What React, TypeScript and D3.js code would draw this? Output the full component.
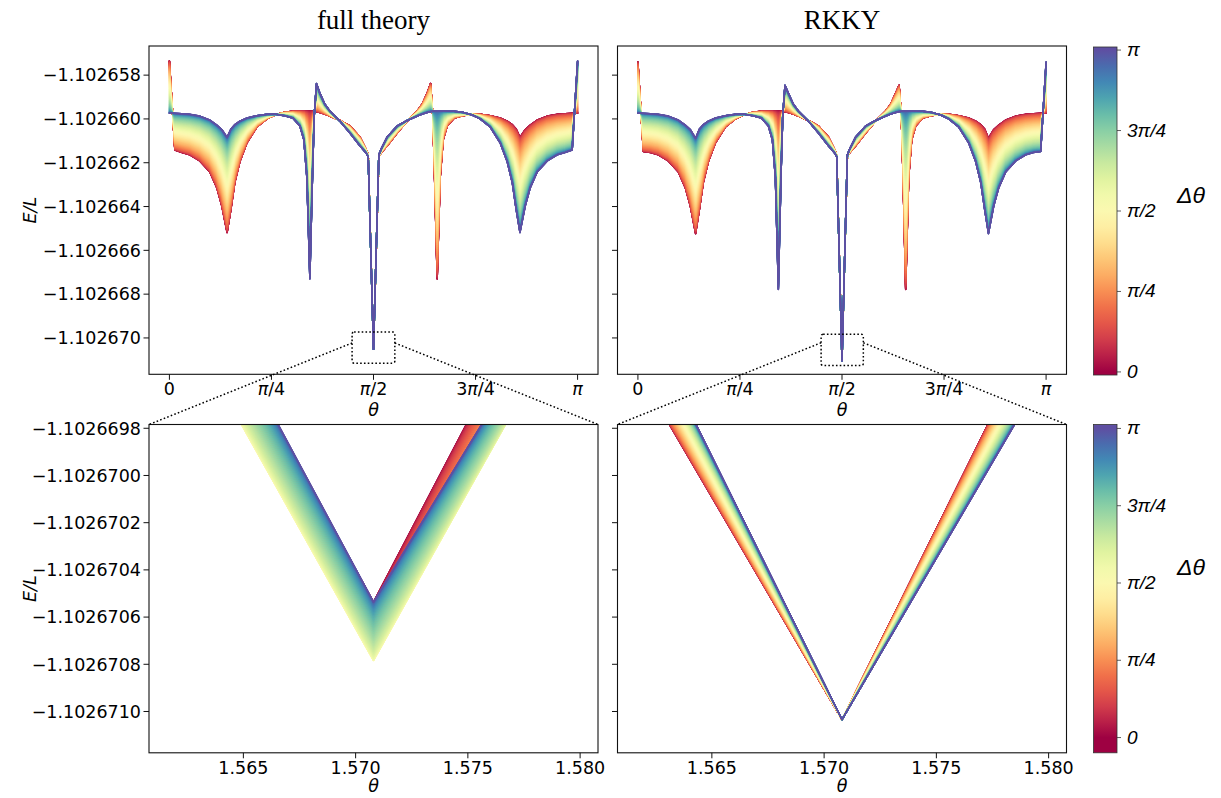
import React from "react";
import * as d3 from "d3";

const PI = Math.PI;
// Energies are stored as offsets from E_REF, in units of 1e-6.
const E_REF = -1.10266;
const UNIT = 1e-6;

// Sweep over the magnetisation angle θ ∈ [0, π]
const thetaSweep = [
  0, 0.042, 0.095, 0.157, 0.234, 0.311, 0.365, 0.403, 0.444, 0.473, 0.503, 0.542, 0.596, 0.673, 0.75, 0.811, 0.881,
  0.95, 1.004, 1.035, 1.058, 1.081, 1.102, 1.115, 1.132, 1.158, 1.196, 1.235, 1.312, 1.389, 1.466, 1.512, 1.53, 1.5708,
  1.612, 1.63, 1.676, 1.753, 1.83, 1.907, 1.946, 1.984, 2.01, 2.027, 2.04, 2.061, 2.084, 2.107, 2.138, 2.192, 2.261,
  2.331, 2.392, 2.469, 2.546, 2.6, 2.639, 2.669, 2.698, 2.739, 2.777, 2.831, 2.908, 2.985, 3.046, 3.1, 3.1416,
];

// Full theory, Δθ = 0 and Δθ = π
const fullDelta0 = [
  2.65, -1.42, -1.53, -1.64, -1.92, -2.42, -3.15, -3.97, -5.19, -4.15, -2.92, -1.96, -1.1, -0.37, 0.0, 0.18, 0.3,
  0.35, 0.36, 0.37, 0.37, 0.37, 0.36, 0.35, 0.33, 0.29, 0.22, 0.13, -0.07, -0.32, -0.82, -1.37, -1.64, -10.51,
  -1.72, -1.54, -1.23, -0.64, -0.1, 0.36, 0.68, 1.18, 1.62, 0.18, -2.46, -7.31, -2.69, -0.96, -0.32, 0.04, 0.15,
  0.22, 0.21, 0.15, 0.04, -0.1, -0.26, -0.46, -0.84, -0.48, -0.28, -0.05, 0.13, 0.21, 0.24, 0.26, 0.26,
];
const fullDeltaPi = [
  0.26, 0.26, 0.24, 0.21, 0.13, -0.05, -0.28, -0.48, -0.84, -0.46, -0.26, -0.1, 0.04, 0.15, 0.21, 0.22, 0.15,
  0.04, -0.32, -0.96, -2.69, -7.31, -2.46, 0.18, 1.62, 1.18, 0.68, 0.36, -0.1, -0.64, -1.23, -1.54, -1.72, -10.51,
  -1.64, -1.37, -0.82, -0.32, -0.07, 0.13, 0.22, 0.29, 0.33, 0.35, 0.36, 0.37, 0.37, 0.37, 0.36, 0.35, 0.3,
  0.18, 0.0, -0.37, -1.1, -1.96, -2.92, -4.15, -5.19, -3.97, -3.15, -2.42, -1.92, -1.64, -1.53, -1.42, 2.65,
];

// RKKY, Δθ = 0 and Δθ = π
const rkkyDelta0 = [
  2.6, -1.49, -1.53, -1.64, -1.92, -2.42, -3.15, -3.97, -5.24, -4.15, -2.92, -1.96, -1.1, -0.37, 0.0, 0.18, 0.3,
  0.35, 0.36, 0.37, 0.37, 0.37, 0.36, 0.35, 0.33, 0.29, 0.22, 0.13, -0.07, -0.32, -0.82, -1.37, -1.64, -11.04,
  -1.72, -1.54, -1.23, -0.64, -0.1, 0.36, 0.68, 1.18, 1.54, 0.18, -2.46, -7.79, -2.69, -0.96, -0.32, 0.04, 0.15,
  0.22, 0.21, 0.15, 0.04, -0.1, -0.26, -0.46, -0.88, -0.48, -0.28, -0.05, 0.13, 0.21, 0.24, 0.26, 0.26,
];
const rkkyDeltaPi = [
  0.26, 0.26, 0.24, 0.21, 0.13, -0.05, -0.28, -0.48, -0.88, -0.46, -0.26, -0.1, 0.04, 0.15, 0.21, 0.22, 0.15,
  0.04, -0.32, -0.96, -2.69, -7.79, -2.46, 0.18, 1.54, 1.18, 0.68, 0.36, -0.1, -0.64, -1.23, -1.54, -1.72, -11.04,
  -1.64, -1.37, -0.82, -0.32, -0.07, 0.13, 0.22, 0.29, 0.33, 0.35, 0.36, 0.37, 0.37, 0.37, 0.36, 0.35, 0.3,
  0.18, 0.0, -0.37, -1.1, -1.96, -2.92, -4.15, -5.24, -3.97, -3.15, -2.42, -1.92, -1.64, -1.53, -1.49, 2.6,
];

// Close-up around θ = π/2
const thetaCloseUp = [PI / 2 - 0.01, PI / 2, PI / 2 + 0.01];
const fullCloseDelta0 = [-8.8, -10.536, -8.716];
const fullCloseDeltaHalf = [-9.083, -10.784, -9.073];
const fullCloseDeltaPi = [-8.765, -10.536, -8.974];
const rkkyCloseDelta0 = [-9.408, -11.034, -9.111];
const rkkyCloseDeltaPi = [-9.111, -11.034, -9.408];

// Axes
const sweepThetaTicks = [0, PI / 4, PI / 2, (3 * PI) / 4, PI];
const sweepThetaLabels = ["0", "π/4", "π/2", "3π/4", "π"];
const sweepEnergyTicks = [-1.102658, -1.10266, -1.102662, -1.102664, -1.102666, -1.102668, -1.10267];
const closeThetaTicks = [1.565, 1.57, 1.575, 1.58];
const closeEnergyTicks = [-1.1026698, -1.10267, -1.1026702, -1.1026704, -1.1026706, -1.1026708, -1.102671];
const deltaTicks = [0, PI / 4, PI / 2, (3 * PI) / 4, PI];
const deltaLabels = ["0", "π/4", "π/2", "3π/4", "π"];
const DELTA_STEPS = 101;

const SWEEP_X: [number, number] = [-0.05 * PI, 1.05 * PI];
const SWEEP_Y: [number, number] = [E_REF - 11.66 * UNIT, E_REF + 3.33 * UNIT];
const CLOSE_X: [number, number] = [PI / 2 - 0.01, PI / 2 + 0.01];
const CLOSE_Y: [number, number] = [E_REF - 11.175 * UNIT, E_REF - 9.784 * UNIT];

// Colour bar ranges (Δθ)
const SWEEP_BAR: [number, number] = [-0.03, PI + 0.03];
const CLOSE_BAR: [number, number] = [-0.155, PI + 0.04];

// Zoom indicator in the sweep panels (data coordinates)
const fullBox = { t0: 1.406, t1: 1.735, e0: -11.15, e1: -9.73, anchor: -10.23 };
const rkkyBox = { t0: 1.41, t1: 1.735, e0: -11.26, e1: -9.83, anchor: -10.22 };

type Pt = [number, number];
type Curve = { delta: number; pts: Pt[] };

// E(Δθ) = A + B cos Δθ + C cos 2Δθ through the stored Δθ = 0, π/2, π curves
function buildFamily(theta: number[], d0: number[], dPi: number[], dHalf?: number[]): Curve[] {
  const out: Curve[] = [];
  for (let k = 0; k < DELTA_STEPS; k++) {
    const delta = (PI * k) / (DELTA_STEPS - 1);
    const pts = theta.map((t, i) => {
      const e0 = d0[i];
      const ePi = dPi[i];
      const eHalf = dHalf ? dHalf[i] : (e0 + ePi) / 2;
      const mean = (e0 + ePi) / 2;
      const A = (mean + eHalf) / 2;
      const B = (e0 - ePi) / 2;
      const C = (mean - eHalf) / 2;
      const off = A + B * Math.cos(delta) + C * Math.cos(2 * delta);
      return [t, E_REF + off * UNIT] as Pt;
    });
    out.push({ delta, pts });
  }
  return out;
}

const FONT = "DejaVu Sans";
const TICK_FS = 17.5;
const minus = (s: string) => s.replace("-", "\u2212");

function PiLabel({ text, x, y, anchor = "middle", size = TICK_FS, family = FONT, allItalic = false }: any) {
  const parts = text.split("π");
  const nodes: any[] = [];
  parts.forEach((p: string, i: number) => {
    if (p) nodes.push(<tspan key={"p" + i} fontStyle={allItalic ? "italic" : "normal"}>{p}</tspan>);
    if (i < parts.length - 1) nodes.push(<tspan key={"pi" + i} fontStyle="italic">π</tspan>);
  });
  return (
    <text x={x} y={y} textAnchor={anchor} fontFamily={family} fontSize={size} fill="#000">
      {nodes}
    </text>
  );
}

type PanelProps = {
  id: string;
  left: number;
  top: number;
  width: number;
  height: number;
  xDomain: [number, number];
  yDomain: [number, number];
  curves: Curve[];
  xTicks: number[];
  xLabel: (v: number, i: number) => string;
  yTicks: number[];
  yLabel: ((v: number) => string) | null;
  thetaY: number;
};

function Panel(p: PanelProps) {
  const x = d3.scaleLinear().domain(p.xDomain).range([p.left, p.left + p.width]);
  const y = d3.scaleLinear().domain(p.yDomain).range([p.top + p.height, p.top]);
  const line = d3
    .line<Pt>()
    .x((d) => x(d[0]))
    .y((d) => y(d[1]));
  const bottom = p.top + p.height;
  return (
    <g>
      <defs>
        <clipPath id={p.id}>
          <rect x={p.left} y={p.top} width={p.width} height={p.height} />
        </clipPath>
      </defs>
      <g clipPath={`url(#${p.id})`}>
        {p.curves.map((c, i) => (
          <path
            key={i}
            d={line(c.pts) || ""}
            fill="none"
            stroke={d3.interpolateSpectral(c.delta / PI)}
            strokeWidth={1.5}
            strokeLinejoin="round"
            strokeLinecap="round"
          />
        ))}
      </g>
      <rect x={p.left} y={p.top} width={p.width} height={p.height} fill="none" stroke="#111" strokeWidth={1.1} />
      {p.xTicks.map((t, i) => (
        <g key={"xt" + i}>
          <line x1={x(t)} x2={x(t)} y1={bottom} y2={bottom + 5.5} stroke="#111" strokeWidth={1} />
          {p.xLabel(t, i).includes("π") ? (
            <PiLabel text={p.xLabel(t, i)} x={x(t)} y={bottom + 21} />
          ) : (
            <text x={x(t)} y={bottom + 21} textAnchor="middle" fontFamily={FONT} fontSize={TICK_FS}>
              {p.xLabel(t, i)}
            </text>
          )}
        </g>
      ))}
      {p.yTicks.map((t, i) => (
        <g key={"yt" + i}>
          <line x1={p.left - 5.5} x2={p.left} y1={y(t)} y2={y(t)} stroke="#111" strokeWidth={1} />
          {p.yLabel && (
            <text x={p.left - 8} y={y(t)} dy="0.36em" textAnchor="end" fontFamily={FONT} fontSize={TICK_FS}>
              {p.yLabel(t)}
            </text>
          )}
        </g>
      ))}
      <text
        x={p.left + p.width / 2}
        y={p.thetaY}
        textAnchor="middle"
        fontFamily={FONT}
        fontStyle="italic"
        fontSize={TICK_FS}
      >
        θ
      </text>
      {p.yLabel && (
        <text
          transform={`translate(${p.left - 113},${p.top + p.height / 2}) rotate(-90)`}
          textAnchor="middle"
          fontFamily={FONT}
          fontStyle="italic"
          fontSize={TICK_FS}
        >
          E/L
        </text>
      )}
    </g>
  );
}

function ColorBar({ id, left, top, width, height, domain, labelY }: any) {
  const y = d3.scaleLinear().domain(domain).range([top + height, top]);
  const stops = d3.range(0, 1.0001, 0.05);
  return (
    <g>
      <defs>
        <linearGradient id={id} x1="0" y1={y(0)} x2="0" y2={y(PI)} gradientUnits="userSpaceOnUse">
          {stops.map((s, i) => (
            <stop key={i} offset={s} stopColor={d3.interpolateSpectral(s)} />
          ))}
        </linearGradient>
      </defs>
      <rect x={left} y={top} width={width} height={height} fill={`url(#${id})`} stroke="#333" strokeWidth={0.8} />
      {deltaTicks.map((t, i) => (
        <g key={i}>
          <line x1={left + width} x2={left + width + 4} y1={y(t)} y2={y(t)} stroke="#333" strokeWidth={0.8} />
          <PiLabel
            text={deltaLabels[i]}
            x={left + width + 10}
            y={y(t) + 6}
            anchor="start"
            size={19}
            family="Liberation Sans"
            allItalic
          />
        </g>
      ))}
      <text
        x={left + width + 74}
        y={labelY}
        textAnchor="middle"
        fontFamily="Liberation Sans"
        fontStyle="italic"
        fontSize={23}
      >
        Δθ
      </text>
    </g>
  );
}

function ZoomMark({ box, left, top, width, height, toLeft, toRight, toTop }: any) {
  const x = d3.scaleLinear().domain(SWEEP_X).range([left, left + width]);
  const y = d3.scaleLinear().domain(SWEEP_Y).range([top + height, top]);
  const bx0 = x(box.t0);
  const bx1 = x(box.t1);
  const by0 = y(E_REF + box.e1 * UNIT);
  const by1 = y(E_REF + box.e0 * UNIT);
  const ay = y(E_REF + box.anchor * UNIT);
  return (
    <g fill="none" stroke="#000" strokeWidth={1.5} strokeDasharray="1.6,2.2">
      <rect x={bx0} y={by0} width={bx1 - bx0} height={by1 - by0} rx={2} />
      <line x1={bx0} y1={ay} x2={toLeft} y2={toTop} />
      <line x1={bx1} y1={ay} x2={toRight} y2={toTop} />
    </g>
  );
}

export default function App() {
  const L1 = 149;
  const L2 = 617.5;
  const PW = 449;
  const T1 = 46;
  const T2 = 424.5;
  const PH = 328.3;

  const fullSweep = buildFamily(thetaSweep, fullDelta0, fullDeltaPi);
  const rkkySweep = buildFamily(thetaSweep, rkkyDelta0, rkkyDeltaPi);
  const fullClose = buildFamily(thetaCloseUp, fullCloseDelta0, fullCloseDeltaPi, fullCloseDeltaHalf);
  const rkkyClose = buildFamily(thetaCloseUp, rkkyCloseDelta0, rkkyCloseDeltaPi);

  const sweepLabel = (_: number, i: number) => sweepThetaLabels[i];
  const closeLabel = (v: number) => d3.format(".3f")(v);
  const sweepE = (v: number) => minus(d3.format(".6f")(v));
  const closeE = (v: number) => minus(d3.format(".7f")(v));

  return (
    <svg
      width={1221}
      height={798}
      viewBox="0 0 1221 798"
      style={{ position: "absolute", left: 0, top: 0, display: "block", background: "#fff" }}
    >
      <rect x={0} y={0} width={1221} height={798} fill="#fff" />
      <text x={L1 + PW / 2} y={29} textAnchor="middle" fontFamily="Liberation Serif" fontSize={27}>
        full theory
      </text>
      <text x={L2 + PW / 2} y={29} textAnchor="middle" fontFamily="Liberation Serif" fontSize={27}>
        RKKY
      </text>

      <Panel id="c1" left={L1} top={T1} width={PW} height={PH} xDomain={SWEEP_X} yDomain={SWEEP_Y}
        curves={fullSweep} xTicks={sweepThetaTicks} xLabel={sweepLabel} yTicks={sweepEnergyTicks} yLabel={sweepE}
        thetaY={416} />
      <Panel id="c2" left={L2} top={T1} width={PW} height={PH} xDomain={SWEEP_X} yDomain={SWEEP_Y}
        curves={rkkySweep} xTicks={sweepThetaTicks} xLabel={sweepLabel} yTicks={sweepEnergyTicks} yLabel={null}
        thetaY={416} />
      <Panel id="c3" left={L1} top={T2} width={PW} height={PH} xDomain={CLOSE_X} yDomain={CLOSE_Y}
        curves={fullClose} xTicks={closeThetaTicks} xLabel={closeLabel} yTicks={closeEnergyTicks} yLabel={closeE}
        thetaY={792} />
      <Panel id="c4" left={L2} top={T2} width={PW} height={PH} xDomain={CLOSE_X} yDomain={CLOSE_Y}
        curves={rkkyClose} xTicks={closeThetaTicks} xLabel={closeLabel} yTicks={closeEnergyTicks} yLabel={null}
        thetaY={792} />

      <ColorBar id="cb1" left={1093.5} top={47} width={23.5} height={328} domain={SWEEP_BAR} labelY={203} />
      <ColorBar id="cb2" left={1093.5} top={T2} width={23.5} height={PH} domain={CLOSE_BAR} labelY={575} />

      <ZoomMark box={fullBox} left={L1} top={T1} width={PW} height={PH} toLeft={L1} toRight={L1 + PW} toTop={T2} />
      <ZoomMark box={rkkyBox} left={L2} top={T1} width={PW} height={PH} toLeft={L2} toRight={L2 + PW} toTop={T2} />
    </svg>
  );
}
